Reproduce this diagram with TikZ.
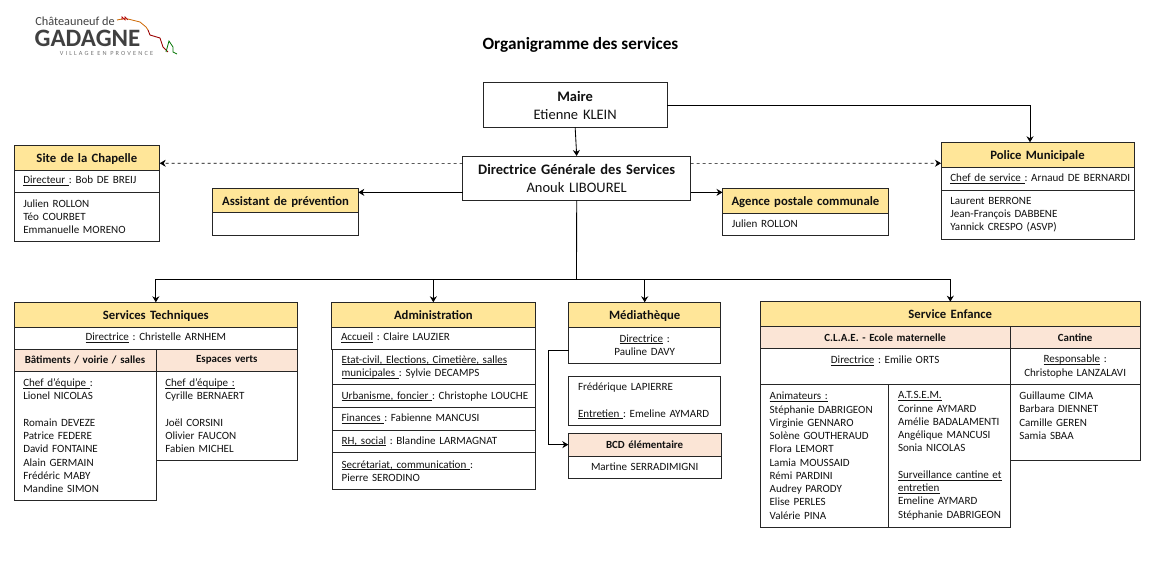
\documentclass[tikz,border=0pt]{standalone}
\usepackage{fontspec}
\setmainfont{Carlito}
\usetikzlibrary{arrows.meta,positioning,calc}
\definecolor{headgold}{HTML}{FFE699}
\definecolor{subpeach}{HTML}{FBE5D6}
\definecolor{inkdark}{HTML}{111111}
\newcommand{\ulab}[1]{\underline{\smash{#1}}\vphantom{#1}}
\frenchspacing
\begin{document}
\begin{tikzpicture}[x=1pt,y=-1pt,>={Stealth[length=6pt,width=7pt]},
cell/.style 2 args={draw=black!85,fill=white,line width=.85pt,anchor=north west,inner xsep=3pt,inner ysep=0pt,outer sep=0pt,
 text width={(#1-6)*1pt},minimum height=#2pt,align=center,text=inkdark,font=\fontsize{11.05}{13.25}\selectfont},
lst/.style={align=left,execute at begin node={\leftskip=6.3pt}},
headcell/.style={fill=headgold,text height=9.4pt,text depth=0pt,font=\fontsize{12.7}{15}\selectfont\bfseries},
subcell/.style={fill=subpeach,font=\fontsize{10.9}{13.3}\selectfont\bfseries},
bigcell/.style={font=\fontsize{14.5}{18}\selectfont},
link/.style={line width=.85pt,black}]
\useasboundingbox(0,0)rectangle(1157,585);
\node[inner sep=0pt,text=black!75,font=\fontsize{12.3}{14}\selectfont](logotop)at(75,21.5){Châteauneuf de};
\node[inner sep=0pt,text=black!75,font=\fontsize{25}{26}\selectfont\bfseries](logoname)at(87.5,38){GADAGNE};
\node[inner sep=0pt,text=black!55,font=\fontsize{6.3}{7}\selectfont\addfontfeatures{LetterSpace=34}](logotag)at(106.5,53.5){VILLAGE EN PROVENCE};
\draw[orange!80!black,line width=.8pt](117,20)--(122,19)--(128,19)--(140,22)--(146,27)--(148,30);
\draw[red!70!black,line width=.7pt](122,20)--(122,17)--(125,20)--(125,17)--(128,20);
\draw[red!60!black,line width=.9pt](148,30)--(150,35)--(160,38)--(163,47)--(168,52);
\draw[green!45!black,line width=.8pt](166,52)--(169,41)--(173,47)--(173,52)--(177,54);
\node[font=\fontsize{17.2}{20}\selectfont\bfseries](pagetitle)at(580.5,44.7){Organigramme des services};

\node[cell={183.7}{44.6},bigcell](maire)at(483.3,82.7){\textbf{Maire}\\Etienne KLEIN};
\node[cell={228}{44.3},bigcell](dgs)at(462.7,156){\textbf{Directrice Générale des Services}\\Anouk LIBOUREL};

\node[cell={145.7}{24.7},headcell](sitehead)at(14,145.3){Site de la Chapelle};
\node[cell={145.7}{22.3},lst](sitedir)at(14,170){\ulab{Directeur\ }: Bob DE BREIJ};
\node[cell={145.7}{49},lst](sitelist)at(14,192.3){Julien ROLLON\\Téo COURBET\\Emmanuelle MORENO};

\node[cell={145.6}{24.7},headcell](asshead)at(212.7,188){Assistant de prévention};
\node[cell={145.6}{22.6}](asslist)at(212.7,212.7){};

\node[cell={165.8}{24.7},headcell](agehead)at(722.5,188.3){Agence postale communale};
\node[cell={165.8}{22.3},lst](agelist)at(722.5,213){Julien ROLLON};

\node[cell={193}{24.7},headcell](polhead)at(941,142.3){Police Municipale};
\node[cell={193}{23.3},lst](poldir)at(941,167){\ulab{Chef de service\ }: Arnaud DE BERNARDI};
\node[cell={193}{48.7},lst](pollist)at(941,190.3){Laurent BERRONE\\Jean-François DABBENE\\Yannick CRESPO (ASVP)};

\node[cell={283.7}{24.7},headcell](techhead)at(14,302.3){Services Techniques};
\node[cell={283.7}{22}](techdir)at(14,327){\ulab{Directrice} : Christelle ARNHEM};
\node[cell={142}{22},subcell](batsub)at(14,349){Bâtiments / voirie / salles};
\node[cell={141.7}{22},subcell](espsub)at(156,349){Espaces verts};
\node[cell={142}{129.7},lst](batlist)at(14,371){\ulab{Chef d’équipe\ }:\\Lionel NICOLAS\\~\\Romain DEVEZE\\Patrice FEDERE\\David FONTAINE\\Alain GERMAIN\\Frédéric MABY\\Mandine SIMON};
\node[cell={141.7}{89.3},lst](esplist)at(156,371){\ulab{Chef d’équipe :}\\Cyrille BERNAERT\\~\\Joël CORSINI\\Olivier FAUCON\\Fabien MICHEL};

\node[cell={203.3}{24.7},headcell](admhead)at(331.7,302.3){Administration};
\node[cell={203.3}{22},lst](admacc)at(331.7,327){\ulab{Accueil} : Claire LAUZIER};
\node[cell={203.4}{35.7},lst](admetat)at(332.3,349){\ulab{Etat-civil, Elections, Cimetière, salles}\\\ulab{municipales\ }: Sylvie DECAMPS};
\node[cell={203.4}{23},lst](admurb)at(332.3,384.7){\ulab{Urbanisme, foncier\ }: Christophe LOUCHE};
\node[cell={203.4}{22.3},lst](admfin)at(332.3,407.7){\ulab{Finances\ }: Fabienne MANCUSI};
\node[cell={203.4}{22.7},lst](admrh)at(332.3,430){\ulab{RH, social} : Blandine LARMAGNAT};
\node[cell={203.4}{36.3},lst](admsec)at(332.3,452.7){\ulab{Secrétariat, communication\ }:\\Pierre SERODINO};

\node[cell={152}{24.7},headcell](medhead)at(568.7,302.3){Médiathèque};
\node[cell={152}{36.3}](meddir)at(568.7,327){\ulab{Directrice} :\\Pauline DAVY};
\node[cell={152}{49},lst](medstaff)at(568.7,376.7){Frédérique LAPIERRE\\~\\\ulab{Entretien\ }: Emeline AYMARD};
\node[cell={152.7}{22.7},subcell](bcdhead)at(568.3,433.3){BCD élémentaire};
\node[cell={152.7}{22}](bcdlist)at(568.3,456){Martine SERRADIMIGNI};

\node[cell={380}{25},headcell](enfhead)at(760.3,301.7){Service Enfance};
\node[cell={249.7}{22},subcell](claesub)at(760.3,326.7){C.L.A.E. - Ecole maternelle};
\node[cell={130.3}{22},subcell](cantsub)at(1010,326.7){Cantine};
\node[cell={249.7}{35.6}](claedir)at(760.3,348.7){\ulab{Directrice} : Emilie ORTS\\~};
\node[cell={130.3}{35.6}](cantdir)at(1010,348.7){\ulab{Responsable} :\\Christophe LANZALAVI};
\node[cell={128.4}{143},lst](animlist)at(760.3,384.3){\ulab{Animateurs :}\\Stéphanie DABRIGEON\\Virginie GENNARO\\Solène GOUTHERAUD\\Flora LEMORT\\Lamia MOUSSAID\\Rémi PARDINI\\Audrey PARODY\\Elise PERLES\\Valérie PINA};
\node[cell={121.3}{143},lst](atsemlist)at(888.7,384.3){\ulab{A.T.S.E.M.}\\Corinne AYMARD\\Amélie BADALAMENTI\\Angélique MANCUSI\\Sonia NICOLAS\\~\\\ulab{Surveillance cantine et}\\\ulab{entretien}\\Emeline AYMARD\\Stéphanie DABRIGEON};
\node[cell={130.3}{76},lst](cantlist)at(1010,384.3){Guillaume CIMA\\Barbara DIENNET\\Camille GEREN\\Samia SBAA\\~};

\coordinate(bus)at(576.5,279.3);
\coordinate(medbend)at(548.3,350.7);
\draw[->,link](maire.south)--(dgs.north);
\draw[->,link](maire.east)-|([xshift=-7.5pt]polhead.north);
\draw[->,link,dashed,line width=.6pt]([yshift=14.8pt]dgs.west)--([yshift=-5.6pt]sitehead.east);
\draw[->,link,dashed,line width=.6pt]([yshift=14.8pt]dgs.east)--([yshift=-8.6pt]polhead.west);
\draw[->,link]([yshift=-14.2pt]dgs.west)--([yshift=8pt]asshead.east);
\draw[->,link]([yshift=-14.2pt]dgs.east)--([yshift=8.3pt]agehead.west);
\draw[link](dgs.south)--(bus);
\draw[link](techhead.north|-bus)--(enfhead.north|-bus);
\foreach \h in {techhead,admhead,medhead,enfhead}\draw[->,link](\h.north|-bus)--(\h.north);
\draw[->,link](medbend-|meddir.west)--(medbend)|-(bcdhead.west);
\end{tikzpicture}
\end{document}
